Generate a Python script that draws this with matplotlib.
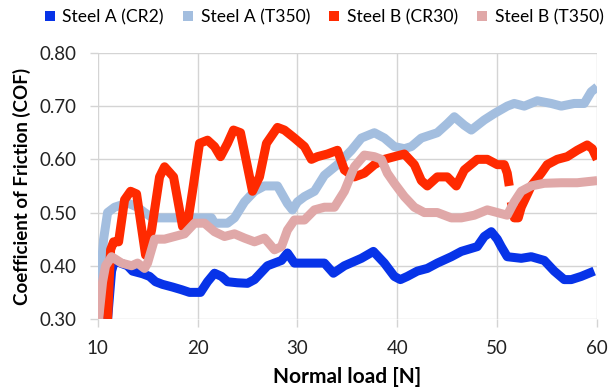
import numpy as np
import matplotlib
matplotlib.use("Agg")
import matplotlib.pyplot as plt
from matplotlib.lines import Line2D

plt.rcParams['font.family'] = ['Lato', 'DejaVu Sans']

series_names = ["Steel A (CR2)", "Steel A (T350)", "Steel B (CR30)", "Steel B (T350)"]
series_colors = ["#0733E8", "#A3BEDF", "#FF2A00", "#E0A8A8"]

# Steel A (CR2)
a_cr2_x = [11.0, 11.4, 11.7, 12.3, 13.0, 13.5, 14.5, 15.2, 15.8, 16.5, 17.5, 18.4, 19.2, 20.3,
           21.0, 21.7, 22.4, 23.0, 24.0, 25.0, 25.7, 27.0, 28.4, 29.0, 29.7, 30.7, 31.7, 32.7,
           33.6, 34.7, 36.4, 37.6, 38.7, 39.7, 40.3, 41.0, 42.0, 43.0, 44.0, 45.4, 46.4, 48.0,
           48.7, 49.4, 50.0, 50.4, 51.0, 52.4, 53.4, 54.7, 55.7, 56.7, 57.4, 58.4, 59.7]
a_cr2_y = [0.30, 0.39, 0.41, 0.405, 0.40, 0.39, 0.385, 0.38, 0.37, 0.365, 0.36, 0.355, 0.35, 0.35,
           0.37, 0.386, 0.38, 0.37, 0.368, 0.367, 0.374, 0.40, 0.41, 0.424, 0.405, 0.405, 0.405, 0.405,
           0.386, 0.40, 0.414, 0.427, 0.405, 0.38, 0.374, 0.38, 0.39, 0.395, 0.405, 0.417, 0.427, 0.436,
           0.455, 0.464, 0.45, 0.436, 0.417, 0.414, 0.417, 0.41, 0.39, 0.374, 0.374, 0.38, 0.39]

# Steel A (T350)
a_t350_x = [10.2, 10.6, 11.0, 11.7, 13.0, 14.0, 14.7, 15.5, 17.0, 18.5, 19.7, 21.4, 21.7, 23.0,
            23.7, 24.7, 25.7, 26.7, 28.0, 29.0, 29.5, 30.0, 30.7, 31.7, 32.7, 34.0, 35.4, 36.4,
            37.7, 38.7, 39.7, 40.7, 41.4, 42.4, 44.0, 45.0, 45.7, 46.7, 47.4, 48.7, 49.7, 51.0,
            51.7, 52.7, 54.0, 55.4, 56.4, 57.7, 58.7, 59.4, 60.0]
a_t350_y = [0.36, 0.45, 0.50, 0.51, 0.518, 0.51, 0.50, 0.49, 0.49, 0.49, 0.49, 0.49, 0.48, 0.48,
            0.49, 0.52, 0.54, 0.55, 0.55, 0.517, 0.505, 0.52, 0.53, 0.54, 0.57, 0.59, 0.617, 0.64,
            0.65, 0.64, 0.624, 0.62, 0.624, 0.64, 0.65, 0.667, 0.68, 0.664, 0.655, 0.674, 0.686, 0.70,
            0.705, 0.70, 0.71, 0.705, 0.70, 0.705, 0.705, 0.727, 0.736]

# Steel B (CR30)  (NaN marks the break in the curve)
b_cr30_x = [11.0, 11.3, 11.6, 12.1, 12.7, 13.3, 13.9, 14.8, 15.4, 16.2, 16.7, 17.6, 18.5, 19.0,
            19.5, 20.2, 21.0, 21.7, 22.3, 23.0, 23.6, 24.3, 25.0, 25.5, 26.2, 26.9, 28.0, 28.7,
            29.7, 30.7, 31.4, 32.0, 33.0, 34.0, 34.7, 35.7, 36.7, 37.7, 38.7, 39.7, 40.7, 41.7,
            42.4, 43.0, 44.0, 45.0, 45.9, 46.7, 48.0, 49.0, 50.0, 50.7, 51.0, 51.2, 51.3, 51.4,
            51.7, 52.1, 52.4, 53.4, 54.4, 55.0, 56.0, 57.0, 58.0, 59.0, 59.5, 60.0]
b_cr30_y = [0.30, 0.43, 0.445, 0.445, 0.524, 0.54, 0.535, 0.42, 0.467, 0.567, 0.586, 0.567, 0.474, 0.48,
            0.54, 0.63, 0.636, 0.624, 0.605, 0.63, 0.655, 0.65, 0.586, 0.54, 0.567, 0.63, 0.66, 0.655,
            0.64, 0.624, 0.60, 0.605, 0.61, 0.617, 0.58, 0.567, 0.574, 0.59, 0.60, 0.605, 0.61, 0.59,
            0.56, 0.55, 0.567, 0.567, 0.55, 0.58, 0.60, 0.60, 0.59, 0.59, 0.574, 0.55, np.nan, 0.52,
            0.49, 0.49, 0.51, 0.55, 0.574, 0.59, 0.60, 0.605, 0.617, 0.627, 0.62, 0.60]

# Steel B (T350)
b_t350_x = [10.1, 10.5, 10.8, 11.4, 12.4, 13.4, 14.0, 14.7, 15.0, 15.7, 16.7, 17.7, 18.7, 19.7,
            20.7, 21.7, 22.7, 23.7, 24.7, 25.7, 26.7, 27.7, 28.4, 29.0, 29.7, 30.7, 31.7, 32.7,
            33.7, 34.7, 35.7, 36.7, 37.7, 38.4, 39.0, 39.7, 40.7, 41.7, 42.7, 44.0, 45.4, 46.4,
            47.7, 49.0, 50.0, 51.0, 51.7, 52.4, 53.4, 54.7, 56.4, 58.0, 60.0]
b_t350_y = [0.30, 0.37, 0.40, 0.417, 0.405, 0.40, 0.405, 0.395, 0.405, 0.45, 0.45, 0.455, 0.46, 0.48,
            0.48, 0.464, 0.455, 0.46, 0.452, 0.445, 0.452, 0.43, 0.436, 0.467, 0.486, 0.486, 0.505, 0.51,
            0.51, 0.54, 0.586, 0.608, 0.605, 0.60, 0.574, 0.555, 0.53, 0.51, 0.50, 0.50, 0.49, 0.49,
            0.495, 0.505, 0.50, 0.495, 0.52, 0.54, 0.55, 0.555, 0.556, 0.556, 0.56]

x_ticks = [10, 20, 30, 40, 50, 60]
y_ticks = [0.30, 0.40, 0.50, 0.60, 0.70, 0.80]

fig = plt.figure(figsize=(6.10, 3.89), dpi=100)
ax = fig.add_axes([0.160, 0.180, 0.819, 0.684])

data = [(a_cr2_x, a_cr2_y), (a_t350_x, a_t350_y), (b_cr30_x, b_cr30_y), (b_t350_x, b_t350_y)]
for (xs, ys), name, col in zip(data, series_names, series_colors):
    ax.plot(xs, ys, color=col, lw=6.5, solid_capstyle='butt', solid_joinstyle='round', label=name)

ax.set_xlim(10, 60)
ax.set_ylim(0.30, 0.80)
ax.set_xticks(x_ticks)
ax.set_yticks(y_ticks)
ax.set_yticklabels([f"{v:.2f}" for v in y_ticks])
ax.grid(True, color="#d4d4d4", lw=1.0)
ax.set_axisbelow(True)
for s in ax.spines.values():
    s.set_visible(False)
ax.tick_params(axis='both', colors="#d4d4d4", labelcolor="#222222", labelsize=13.5,
               length=6, width=1.0, direction='out')
ax.tick_params(axis='x', pad=9)
ax.tick_params(axis='y', pad=9)

ax.set_xlabel("Normal load [N]", fontsize=15, fontweight='bold', labelpad=7)
ax.set_ylabel("Coefficient of Friction (COF)", fontsize=13.5, fontweight='bold', labelpad=6)

handles = [Line2D([], [], ls='none', marker='s', markersize=6.5, color=c, markeredgewidth=0)
           for c in series_colors]
fig.legend(handles, series_names, loc='center', bbox_to_anchor=(0.530, 0.955), ncol=4,
           frameon=False, fontsize=12.6, handletextpad=0.3, columnspacing=1.0,
           handlelength=0.8, borderpad=0)

fig.savefig("out.png", dpi=100)
